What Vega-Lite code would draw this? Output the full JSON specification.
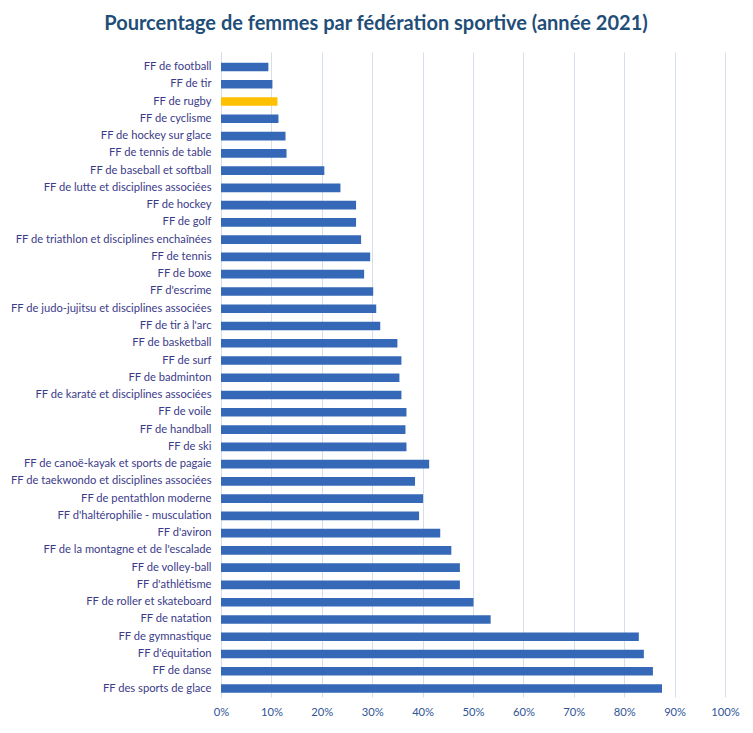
{
  "$schema": "https://vega.github.io/schema/vega-lite/v6.json",
  "autosize": "none",
  "width": 504,
  "height": 645,
  "padding": {"left": 221, "top": 52, "right": 28, "bottom": 36},
  "background": "white",
  "title": {
    "text": "Pourcentage de femmes par fédération sportive (année 2021)",
    "font": "Lato",
    "fontSize": 20,
    "fontWeight": "bold",
    "color": "#1F4E79",
    "anchor": "middle",
    "dx": -97,
    "offset": 18
  },
  "data": {
    "values": [
      {"federation": "FF de football", "pct": 9.4},
      {"federation": "FF de tir", "pct": 10.2},
      {"federation": "FF de rugby", "pct": 11.2},
      {"federation": "FF de cyclisme", "pct": 11.4},
      {"federation": "FF de hockey sur glace", "pct": 12.8},
      {"federation": "FF de tennis de table", "pct": 13.0},
      {"federation": "FF de baseball et softball", "pct": 20.5},
      {"federation": "FF de lutte et disciplines associées", "pct": 23.7},
      {"federation": "FF de hockey", "pct": 26.8},
      {"federation": "FF de golf", "pct": 26.8},
      {"federation": "FF de triathlon et disciplines enchaînées", "pct": 27.8},
      {"federation": "FF de tennis", "pct": 29.6},
      {"federation": "FF de boxe", "pct": 28.4},
      {"federation": "FF d'escrime", "pct": 30.2},
      {"federation": "FF de judo-jujitsu et disciplines associées", "pct": 30.8},
      {"federation": "FF de tir à l'arc", "pct": 31.6},
      {"federation": "FF de basketball", "pct": 35.0},
      {"federation": "FF de surf", "pct": 35.8},
      {"federation": "FF de badminton", "pct": 35.4},
      {"federation": "FF de karaté et disciplines associées", "pct": 35.8},
      {"federation": "FF de voile", "pct": 36.8},
      {"federation": "FF de handball", "pct": 36.6},
      {"federation": "FF de ski", "pct": 36.8},
      {"federation": "FF de canoë-kayak et sports de pagaie", "pct": 41.3},
      {"federation": "FF de taekwondo et disciplines associées", "pct": 38.5},
      {"federation": "FF de pentathlon moderne", "pct": 40.1},
      {"federation": "FF d'haltérophilie - musculation", "pct": 39.3},
      {"federation": "FF d'aviron", "pct": 43.5},
      {"federation": "FF de la montagne et de l'escalade", "pct": 45.7},
      {"federation": "FF de volley-ball", "pct": 47.4},
      {"federation": "FF d'athlétisme", "pct": 47.4},
      {"federation": "FF de roller et skateboard", "pct": 50.1},
      {"federation": "FF de natation", "pct": 53.5},
      {"federation": "FF de gymnastique", "pct": 82.9},
      {"federation": "FF d'équitation", "pct": 83.9},
      {"federation": "FF de danse", "pct": 85.7},
      {"federation": "FF des sports de glace", "pct": 87.5}
    ]
  },
  "mark": {"type": "bar"},
  "encoding": {
    "y": {
      "field": "federation",
      "type": "nominal",
      "sort": null,
      "title": null,
      "scale": {"paddingInner": 0.5, "paddingOuter": 0.43, "align": 0.72},
      "axis": {
        "ticks": false,
        "labelPadding": 10,
        "labelFont": "Lato",
        "labelFontSize": 11.2,
        "labelColor": "#3B3B8A",
        "domainColor": "#D5DFEC",
        "grid": false,
        "labelLimit": 400
      }
    },
    "x": {
      "field": "pct",
      "type": "quantitative",
      "title": null,
      "scale": {"domain": [0, 100], "nice": false},
      "axis": {
        "values": [0, 10, 20, 30, 40, 50, 60, 70, 80, 90, 100],
        "labelExpr": "datum.value + '%'",
        "labelFlush": false,
        "labelOverlap": false,
        "ticks": false,
        "domain": false,
        "grid": true,
        "gridColor": "#D5DFEC",
        "gridWidth": 1,
        "labelFont": "Lato",
        "labelFontSize": 11.2,
        "labelColor": "#2F5597",
        "labelPadding": 9
      }
    },
    "color": {
      "condition": {"test": "datum.federation === 'FF de rugby'", "value": "#FFC000"},
      "value": "#3568B6"
    }
  },
  "config": {"view": {"stroke": null}}
}
